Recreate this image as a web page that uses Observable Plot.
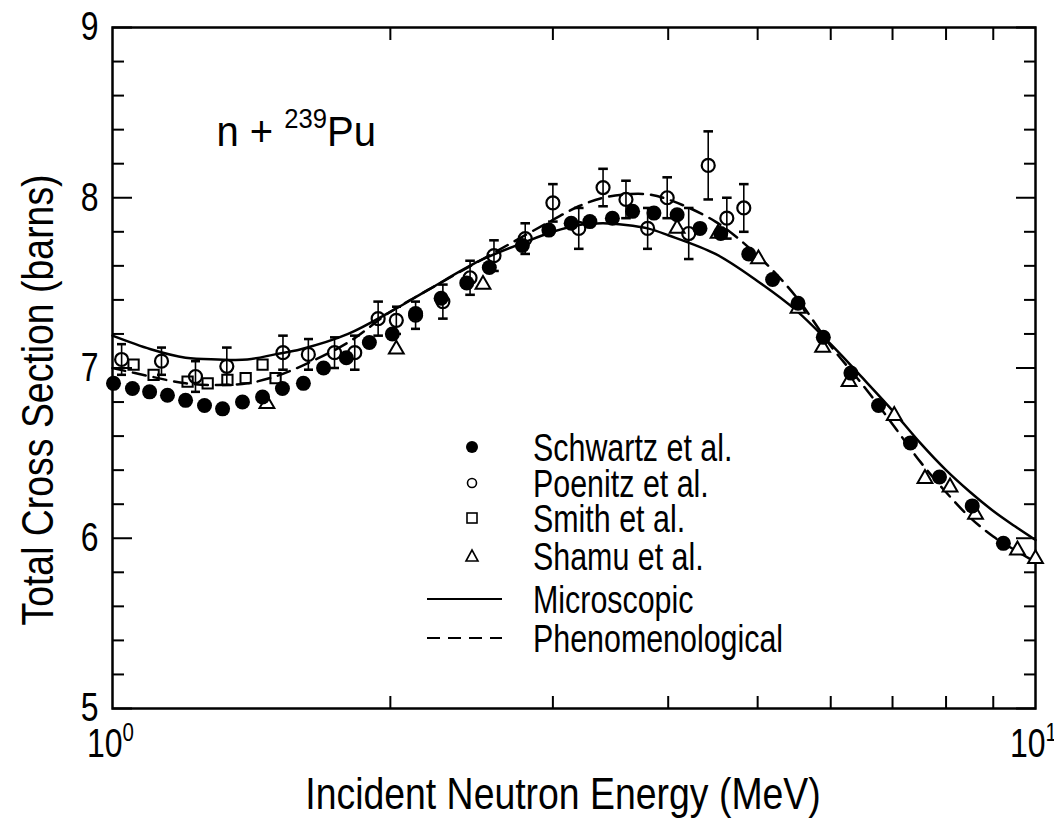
<!DOCTYPE html>
<html><head><meta charset="utf-8">
<script src="https://cdn.jsdelivr.net/npm/d3@7"></script>
<script src="https://cdn.jsdelivr.net/npm/@observablehq/plot@0.6"></script>
<style>
body{margin:0;background:#fff;}
#wrap{position:relative;width:1054px;height:828px;}
</style></head><body><div id="wrap"></div>
<script>
// ---------- data ----------
const schwartzE = [1.0025,1.051,1.097,1.147,1.20,1.258,1.316,1.383,1.454,1.528,1.61,1.693,1.792,1.898,2.01,2.13,2.27,2.42,2.56,2.78,2.97,3.14,3.29,3.48,3.66,3.86,4.09,4.33,4.56,4.89,5.19,5.53,5.89,6.31,6.76,7.32,7.87,8.54,9.23];
const schwartzS = [6.91,6.88,6.86,6.84,6.81,6.78,6.76,6.80,6.83,6.88,6.91,7.00,7.06,7.15,7.20,7.32,7.41,7.50,7.59,7.72,7.81,7.85,7.86,7.88,7.92,7.91,7.90,7.82,7.79,7.67,7.52,7.38,7.18,6.97,6.78,6.56,6.36,6.19,5.97];

const poenitzE = [1.023,1.13,1.23,1.33,1.53,1.63,1.74,1.83,1.94,2.03,2.13,2.28,2.44,2.59,2.80,3.00,3.20,3.40,3.60,3.80,3.99,4.21,4.42,4.63,4.83];
const poenitzS = [7.05,7.04,6.95,7.01,7.09,7.08,7.09,7.09,7.29,7.28,7.31,7.39,7.53,7.66,7.76,7.97,7.82,8.06,7.99,7.82,8.00,7.79,8.19,7.88,7.94];
const poenitzErr = [0.09,0.08,0.09,0.11,0.10,0.09,0.09,0.10,0.10,0.08,0.08,0.10,0.10,0.09,0.09,0.11,0.12,0.11,0.11,0.12,0.12,0.15,0.20,0.12,0.14];

const smithE = [1.054,1.108,1.206,1.268,1.332,1.394,1.454,1.502];
const smithS = [7.02,6.96,6.92,6.91,6.93,6.94,7.02,6.94];

const shamuE = [1.47,2.03,2.52,4.09,4.53,5.01,5.53,5.88,6.28,7.03,7.59,8.08,8.61,9.56,10.0];
const shamuS = [6.79,7.11,7.49,7.82,7.79,7.64,7.35,7.12,6.92,6.72,6.35,6.30,6.14,5.93,5.88];

const curveE = [1.0,1.1,1.2,1.3,1.4,1.5,1.6,1.8,2.0,2.2,2.5,2.8,3.0,3.2,3.4,3.6,3.8,4.0,4.5,5.0,5.5,6.0,6.5,7.0,7.5,8.0,8.5,9.0,9.5,10.0];
const microS = [7.19,7.11,7.06,7.05,7.05,7.08,7.11,7.20,7.33,7.46,7.63,7.74,7.80,7.84,7.85,7.84,7.82,7.78,7.67,7.51,7.34,7.14,6.94,6.75,6.56,6.40,6.27,6.16,6.07,5.99];
const phenoS = [7.00,6.95,6.91,6.90,6.91,6.95,7.01,7.15,7.33,7.46,7.63,7.78,7.87,7.95,8.00,8.02,8.02,7.99,7.86,7.66,7.42,7.13,6.90,6.67,6.45,6.27,6.12,6.01,5.93,5.86];

const legendLabels = ["Schwartz et al.","Poenitz et al.","Smith et al.","Shamu et al.","Microscopic","Phenomenological"];
const xLabelTicks = [1,10];
const xMinorTicks = [2,3,4,5,6,7,8,9];
const yMajorTicks = [5,6,7,8,9];
const yMinorTicks = [5.2,5.4,5.6,5.8,6.2,6.4,6.6,6.8,7.2,7.4,7.6,7.8,8.2,8.4,8.6,8.8];
const xTitle = "Incident Neutron Energy (MeV)";
const yTitle = "Total Cross Section (barns)";
const annotation = "n + ^{239}Pu";

// ---------- build ----------
const fam = '"Liberation Sans",Arial,sans-serif';
const zip = (E,S) => E.map((e,i)=>({E:e, s:S[i]}));
const schwartz = zip(schwartzE, schwartzS);
const poenitz = poenitzE.map((e,i)=>({E:e, s:poenitzS[i], lo:poenitzS[i]-poenitzErr[i], hi:poenitzS[i]+poenitzErr[i]}));
const smith = zip(smithE, smithS);
const shamu = zip(shamuE, shamuS);
const micro = zip(curveE, microS);
const pheno = zip(curveE, phenoS);
const blank = () => "";

const chart = Plot.plot({
  width:1054, height:828,
  marginLeft:112, marginRight:19, marginTop:27, marginBottom:120,
  style:{fontFamily:fam, color:"#000", background:"#fff"},
  x:{type:"log", domain:[1,10]},
  y:{domain:[5,9]},
  marks:[
    Plot.frame({stroke:"#000", strokeWidth:2.5}),
    Plot.axisY({anchor:"left", ticks:yMajorTicks, tickSize:-20, tickFormat:blank, label:null, strokeWidth:2}),
    Plot.axisY({anchor:"left", ticks:yMinorTicks, tickSize:-12, tickFormat:blank, label:null, strokeWidth:2}),
    Plot.axisY({anchor:"right", ticks:yMajorTicks, tickSize:-20, tickFormat:blank, label:null, strokeWidth:2}),
    Plot.axisY({anchor:"right", ticks:yMinorTicks, tickSize:-12, tickFormat:blank, label:null, strokeWidth:2}),
    Plot.axisX({anchor:"bottom", ticks:xMinorTicks, tickSize:-12, tickFormat:blank, label:null, strokeWidth:2}),
    Plot.axisX({anchor:"top", ticks:xMinorTicks, tickSize:-12, tickFormat:blank, label:null, strokeWidth:2}),
    Plot.axisY({anchor:"left", ticks:yMajorTicks, tickSize:0, tickPadding:14, label:null, fontSize:40, tickFormat:d=>String(d)}),
    Plot.axisX({anchor:"bottom", ticks:xLabelTicks, tickSize:0, tickPadding:20, label:null, fontSize:40, dx:-2,
      tickFormat:d=>`10^{${Math.round(Math.log10(d))}}`}),
    Plot.text([xTitle], {frameAnchor:"bottom", text:d=>d, dx:-11, dy:86, fontSize:44, lineAnchor:"middle", textAnchor:"middle"}),
    Plot.text([yTitle], {frameAnchor:"left", text:d=>d, rotate:-90, dx:-74, dy:32, fontSize:44, lineAnchor:"middle", textAnchor:"middle"}),
    Plot.text([annotation], {frameAnchor:"top-left", text:d=>d, dx:104, dy:118, fontSize:43, textAnchor:"start", lineAnchor:"bottom"}),
    Plot.line(micro, {x:"E", y:"s", stroke:"#000", strokeWidth:2.5, curve:"catmull-rom"}),
    Plot.line(pheno, {x:"E", y:"s", stroke:"#000", strokeWidth:2.5, strokeDasharray:"13,8", curve:"catmull-rom"}),
    Plot.link(poenitz, {x1:"E", x2:"E", y1:"lo", y2:"hi", stroke:"#000", strokeWidth:1.6, markerStart:"tick", markerEnd:"tick"}),
    Plot.dot(shamu, {x:"E", y:"s", symbol:"triangle", r:5.5, stroke:"#000", strokeWidth:2, fill:"#fff"}),
    Plot.dot(smith, {x:"E", y:"s", symbol:"square", r:5.8, stroke:"#000", strokeWidth:2, fill:"none"}),
    Plot.dot(schwartz, {x:"E", y:"s", symbol:"circle", r:7.5, fill:"#000", stroke:"none"}),
    Plot.dot(poenitz, {x:"E", y:"s", symbol:"circle", r:6.5, stroke:"#000", strokeWidth:2.2, fill:"none"})
  ]
});
document.getElementById("wrap").appendChild(chart);

// superscripts written as ^{...}
function supify(root){
  root.querySelectorAll("text").forEach(t=>{
    const s = t.textContent; if(!s.includes("^{")) return;
    const fs = parseFloat(getComputedStyle(t).fontSize) || 38;
    while(t.firstChild) t.removeChild(t.firstChild);
    let raised = false;
    s.split(/(\^\{[^}]*\})/).forEach(p=>{
      if(!p) return;
      const ts = document.createElementNS("http://www.w3.org/2000/svg","tspan");
      if(p.startsWith("^{")){ ts.textContent = p.slice(2,-1); ts.setAttribute("font-size", fs*0.64); ts.setAttribute("dy", -fs*0.4); raised = true; }
      else { ts.textContent = p; if(raised){ ts.setAttribute("dy", fs*0.4); raised = false; } }
      t.appendChild(ts);
    });
  });
}
supify(chart);

// legend
const svg = d3.select(chart);
const lg = svg.append("g").attr("font-family", fam).attr("font-size", 38).attr("text-anchor","start");
const rowY = [447,483,518,556,599,638];
const symX = 472, txtX = 533;
legendLabels.forEach((lab,i)=>{
  const y = rowY[i];
  if(i===0) lg.append("circle").attr("cx",symX).attr("cy",y).attr("r",6).attr("fill","#000");
  if(i===1) lg.append("circle").attr("cx",symX).attr("cy",y).attr("r",4.5).attr("fill","none").attr("stroke","#000").attr("stroke-width",1.6);
  if(i===2) lg.append("rect").attr("x",symX-5).attr("y",y-5).attr("width",10).attr("height",10).attr("fill","none").attr("stroke","#000").attr("stroke-width",1.6);
  if(i===3) lg.append("path").attr("d",`M${symX-6},${y+5}L${symX+6},${y+5}L${symX},${y-6}Z`).attr("fill","none").attr("stroke","#000").attr("stroke-width",1.6);
  if(i===4) lg.append("line").attr("x1",427).attr("x2",502).attr("y1",y).attr("y2",y).attr("stroke","#000").attr("stroke-width",2.2);
  if(i===5) lg.append("line").attr("x1",427).attr("x2",502).attr("y1",y).attr("y2",y).attr("stroke","#000").attr("stroke-width",2.2).attr("stroke-dasharray","13,8");
  lg.append("text").attr("x",txtX).attr("y",y).attr("dy","0.36em").text(lab);
});

// condensed lettering like the original typeface
chart.querySelectorAll("text").forEach(t=>{
  const s = t.textContent;
  const k = (s===xTitle || s===yTitle) ? 0.85 : s.startsWith("n +") ? 0.93 : 0.8;
  const w = t.getComputedTextLength();
  if(w>0){ t.setAttribute("textLength", (w*k).toFixed(1)); t.setAttribute("lengthAdjust","spacingAndGlyphs"); }
});
</script>
</body></html>
